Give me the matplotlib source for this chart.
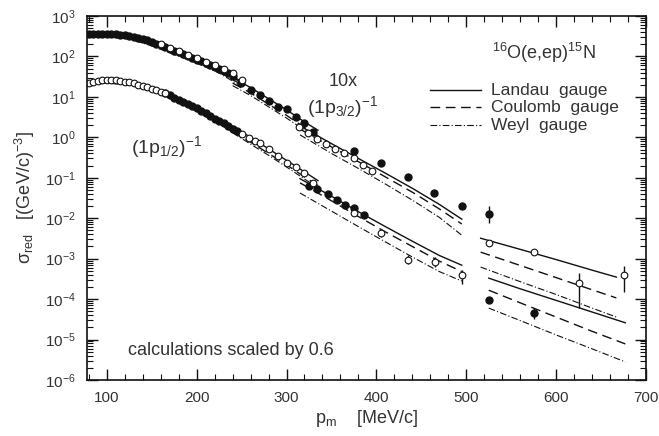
import matplotlib
matplotlib.use("Agg")
import matplotlib.pyplot as plt
from matplotlib.ticker import LogLocator, MultipleLocator, NullFormatter

plt.rcParams['font.family'] = ['Liberation Sans', 'DejaVu Sans']
plt.rcParams['mathtext.fontset'] = 'custom'
plt.rcParams['mathtext.rm'] = 'Liberation Sans'
plt.rcParams['mathtext.it'] = 'Liberation Sans:italic'
plt.rcParams['mathtext.default'] = 'regular'

# --- measured data, 1p3/2 (x10) ---
p32_full_x = [80, 85, 90, 95, 100, 105, 110, 115, 120, 125, 130, 135, 140, 145, 150,
              155, 160, 165, 170, 175, 180, 185, 190, 195, 200, 205, 210, 215, 220,
              225, 230, 235, 240, 249, 260, 271, 280, 290, 300, 310, 319, 330,
              375, 405, 435, 464, 495, 525]
p32_full_y = [355, 360, 362, 360, 358, 355, 350, 345, 338, 325, 310, 290, 270, 250, 225,
              205, 190, 172, 155, 140, 126, 114, 102, 92, 84, 76, 68, 62, 56,
              50, 44, 38, 32, 22, 15, 11, 8.0, 5.6, 5.0, 3.2, 2.3, 1.35,
              0.46, 0.23, 0.104, 0.042, 0.020, 0.0126]
p32_open_x = [160, 170, 180, 190, 200, 210, 220, 230, 240, 250,
              314, 324, 334, 344, 354, 364, 375, 385, 395]
p32_open_y = [200, 165, 135, 108, 90, 74, 62, 50, 38, 26,
              1.8, 1.28, 0.91, 0.68, 0.51, 0.41, 0.31, 0.21, 0.148]

# --- measured data, 1p1/2 ---
p12_open_x = [80, 85, 90, 95, 100, 105, 110, 115, 120, 125, 130, 135, 140, 145, 150,
              155, 160, 165, 250, 258, 265, 271, 280, 290, 300, 310, 319, 330,
              375, 405, 435, 465, 495, 525, 575, 625, 676]
p12_open_y = [22, 23.5, 24.5, 25.5, 26, 26, 25.5, 25, 24, 23, 21.5, 20, 18.5, 17.5, 16,
              14.5, 13.5, 12.5, 1.2, 0.95, 0.82, 0.72, 0.52, 0.35, 0.23, 0.19, 0.13, 0.074,
              0.0134, 0.0043, 0.00093, 0.00083, 0.0004, 0.0025, 0.0015, 0.00025, 0.0004]
p12_full_x = [165, 170, 175, 180, 185, 190, 195, 200, 205, 210, 215, 220, 225, 230,
              235, 240, 245, 325, 334, 346, 356, 365, 375, 386, 525, 575]
p12_full_y = [12.2, 11, 9.6, 8.4, 7.5, 6.6, 5.9, 5.3, 4.5, 3.9, 3.3, 2.9, 2.5, 2.2,
              1.9, 1.6, 1.4, 0.063, 0.053, 0.040, 0.028, 0.021, 0.018, 0.012, 9.5e-5, 4.6e-5]

# error bars (x, low, high)
err_x = [405, 435, 465, 495, 525, 575, 625, 676]
err_lo = [0.0034, 0.00072, 0.00062, 0.00024, 0.0078, 3.3e-5, 6.0e-5, 1.5e-4]
err_hi = [0.0054, 0.0012, 0.0011, 0.00052, 0.020, 6.0e-5, 4.4e-4, 6.6e-4]

# --- calculations: Landau, Coulomb, Weyl per kinematic segment ---
segA_x = [78, 100, 125, 150, 175, 200, 225, 250]
segA32_L = [350, 355, 320, 220, 140, 86, 50, 24]
segA32_C = [320, 325, 290, 195, 122, 74, 42, 20]
segA32_W = [300, 305, 272, 182, 112, 68, 39, 18]
segA12_L = [22.5, 25.5, 23, 16.5, 10, 5.4, 2.7, 1.25]
segA12_C = [20.5, 23, 20.5, 14.5, 8.8, 4.7, 2.3, 1.05]
segA12_W = [19.5, 22, 19.5, 13.8, 8.3, 4.4, 2.15, 0.98]

segB_x = [240, 260, 280, 300, 320, 335]
segB32_L = [30, 17, 9.0, 4.8, 2.4, 1.5]
segB32_C = [22, 12.5, 6.6, 3.5, 1.75, 1.1]
segB32_W = [19, 10.8, 5.7, 3.0, 1.5, 0.95]
segB12_L = [1.9, 1.0, 0.52, 0.27, 0.14, 0.085]
segB12_C = [1.45, 0.76, 0.40, 0.21, 0.105, 0.064]
segB12_W = [1.3, 0.68, 0.36, 0.185, 0.093, 0.057]

segC_x = [315, 350, 380, 410, 440, 470, 495]
segC32_L = [1.9, 0.70, 0.30, 0.13, 0.055, 0.022, 0.0095]
segC32_C = [1.6, 0.58, 0.25, 0.105, 0.044, 0.017, 0.0072]
segC32_W = [1.15, 0.40, 0.17, 0.070, 0.028, 0.0105, 0.0038]
segC12_L = [0.095, 0.035, 0.0145, 0.0062, 0.0027, 0.0012, 0.00069]
segC12_C = [0.075, 0.027, 0.011, 0.0046, 0.0020, 0.00087, 0.00048]
segC12_W = [0.042, 0.015, 0.0062, 0.0026, 0.0011, 0.00048, 0.00028]

segD32_x = [516, 560, 600, 640, 667]
segD32_L = [3.2e-3, 1.7e-3, 9.5e-4, 5.2e-4, 3.5e-4]
segD32_C = [1.45e-3, 6.8e-4, 3.4e-4, 1.7e-4, 1.07e-4]
segD32_W = [6.2e-4, 2.7e-4, 1.3e-4, 6.0e-5, 3.6e-5]
segD12_x = [525, 560, 600, 640, 677]
segD12_L = [3.3e-4, 1.8e-4, 9.3e-5, 4.8e-5, 2.6e-5]
segD12_C = [1.66e-4, 8.1e-5, 3.6e-5, 1.6e-5, 7.8e-6]
segD12_W = [6.0e-5, 2.95e-5, 1.3e-5, 5.9e-6, 2.8e-6]

fig = plt.figure(figsize=(6.59, 4.36), dpi=100)
ax = fig.add_axes([87 / 659, 56 / 436, 559 / 659, 364 / 436])

ink = '#111111'
txt = '#333333'
styles = {'L': dict(ls='-', lw=1.0), 'C': dict(ls=(0, (7, 4)), lw=1.0), 'W': dict(ls=(0, (6, 2, 1, 2)), lw=0.8)}
segments = [(segA_x, segA_x, [segA32_L, segA32_C, segA32_W], [segA12_L, segA12_C, segA12_W]),
            (segB_x, segB_x, [segB32_L, segB32_C, segB32_W], [segB12_L, segB12_C, segB12_W]),
            (segC_x, segC_x, [segC32_L, segC32_C, segC32_W], [segC12_L, segC12_C, segC12_W]),
            (segD32_x, segD12_x, [segD32_L, segD32_C, segD32_W], [segD12_L, segD12_C, segD12_W])]
for x32, x12, s32, s12 in segments:
    for ys, key in zip(s32, ['L', 'C', 'W']):
        ax.plot(x32, ys, color=ink, **styles[key])
    for ys, key in zip(s12, ['L', 'C', 'W']):
        ax.plot(x12, ys, color=ink, **styles[key])

ax.vlines(err_x, err_lo, err_hi, color=ink, lw=1.0)
ax.plot(p32_full_x, p32_full_y, 'o', ms=5, color=ink, mec=ink)
ax.plot(p12_full_x, p12_full_y, 'o', ms=5, color=ink, mec=ink)
ax.plot(p32_open_x, p32_open_y, 'o', ms=4.8, mfc='white', mec=ink, mew=0.8)
ax.plot(p12_open_x, p12_open_y, 'o', ms=4.8, mfc='white', mec=ink, mew=0.8)

ax.set_yscale('log')
ax.set_xlim(78, 700)
ax.set_ylim(1e-6, 1e3)
ax.xaxis.set_major_locator(MultipleLocator(100))
ax.xaxis.set_minor_locator(MultipleLocator(20))
ax.yaxis.set_major_locator(LogLocator(base=10, numticks=20))
ax.yaxis.set_minor_locator(LogLocator(base=10, subs=range(2, 10), numticks=20))
ax.yaxis.set_minor_formatter(NullFormatter())
ax.tick_params(which='both', direction='in', top=True, right=True, colors=ink, labelsize=11, labelcolor=txt)
ax.tick_params(which='major', length=8, width=1.0, pad=8)
ax.tick_params(which='minor', length=4, width=0.8)
for s in ax.spines.values():
    s.set_linewidth(1.2)
    s.set_color(ink)

ax.set_xlabel(r'$\mathrm{p}_{\mathrm{m}}$    [MeV/c]', fontsize=13, color=txt, labelpad=2)
ax.set_ylabel(r'$\sigma_{\mathrm{red}}$   [(GeV/c)$^{-3}$]', fontsize=13, color=txt, labelpad=6)

ax.text(586, 10 ** 2.08, r'$^{16}$O(e,ep)$^{15}$N', fontsize=13, color=txt, ha='center', va='center')
ax.text(363, 10 ** 1.37, '10x', fontsize=13, color=txt, ha='center', va='center')
ax.text(362, 10 ** 0.75, r'$(1\mathrm{p}_{3/2})^{-1}$', fontsize=14, color=txt, ha='center', va='center')
ax.text(167, 10 ** -0.24, r'$(1\mathrm{p}_{1/2})^{-1}$', fontsize=14, color=txt, ha='center', va='center')
ax.text(124, 10 ** -5.28, 'calculations scaled by 0.6', fontsize=13, color=txt, ha='left', va='center')

leg_y = [10 ** 1.17, 10 ** 0.75, 10 ** 0.30]
for yy, key, lab in zip(leg_y, ['L', 'C', 'W'], ['Landau  gauge', 'Coulomb  gauge', 'Weyl  gauge']):
    ax.plot([460, 516], [yy, yy], color=ink, **styles[key])
    ax.text(527, yy, lab, fontsize=12.5, color=txt, va='center', ha='left')

fig.savefig('out.png', dpi=100)
